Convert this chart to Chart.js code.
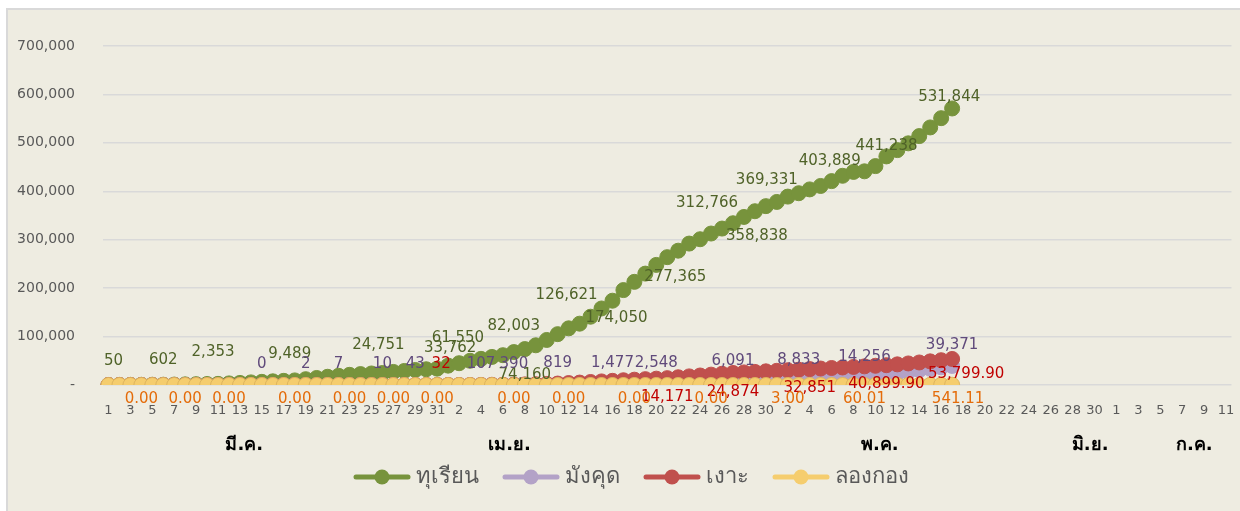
<!DOCTYPE html>
<html>
<head>
<meta charset="utf-8">
<script src="https://cdn.jsdelivr.net/npm/chart.js@4.4.1/dist/chart.umd.min.js"></script>
<style>
  body { margin: 0; background: #fff; }
  .frame { position: absolute; left: 6px; top: 8px; width: 1232px; height: 510px; border: 2px solid #D9D9D9; background: #EEECE1; }
  .wrap { position: absolute; left: 0; top: 0; width: 1240px; height: 511px; }
</style>
</head>
<body>
<div class="frame"></div>
<div class="wrap"><canvas id="fruitChart"></canvas></div>
<script>
// months shown on the axis and how many days of each are on it
const monthNames = ['มี.ค.', 'เม.ย.', 'พ.ค.', 'มิ.ย.', 'ก.ค.'];
const monthDays = [31, 30, 31, 11];
const days = [];
monthDays.forEach(n => { for (let d = 1; d <= n; d++) days.push(String(d)); });

// cumulative values, 1 Mar .. 17 May
const durian = [
  50, 200, 350, 450, 520, 602, 900, 1300, 1800, 2100,
  2353, 3300, 4300, 5400, 6500, 7600, 8600, 9489, 12000, 14500,
  17000, 19000, 21000, 22500, 23800, 24751, 27000, 29000, 31000, 32500,
  33762, 40000, 45000, 50000, 54000, 58000, 61550, 68000, 74160, 82003,
  93000, 105000, 117000, 126621, 141000, 158000, 174050, 196000, 213000, 230000,
  248000, 264000, 277365, 292000, 301000, 312766, 323000, 334000, 347000, 358838,
  369331, 378000, 389000, 396000, 403889, 411000, 421000, 432000, 440000, 441238,
  452000, 472000, 485000, 499000, 514000, 531844, 551000, 571000
];
const mangosteen = [
  0, 0, 0, 0, 0, 0, 0, 0, 0, 0,
  0, 0, 0, 0, 0, 1, 1, 2, 2, 4,
  5, 7, 8, 9, 9, 10, 18, 30, 43, 55,
  65, 75, 85, 95, 107, 200, 300, 390, 520, 620,
  720, 819, 950, 1100, 1250, 1350, 1477, 1700, 1950, 2250,
  2548, 3000, 3500, 4000, 4600, 5300, 5700, 6091, 6500, 6900,
  7300, 7700, 8200, 8833, 9500, 10300, 11200, 12200, 13200, 14256,
  17000, 20000, 23500, 27000, 30500, 33500, 36500, 39371
];
const rambutan = [
  0, 0, 0, 0, 0, 0, 0, 0, 0, 0,
  0, 0, 0, 0, 0, 0, 0, 0, 0, 0,
  0, 0, 0, 0, 0, 0, 0, 0, 0, 0,
  32, 60, 100, 150, 250, 400, 600, 850, 1200, 1600,
  2200, 3000, 4000, 5000, 6200, 7400, 8600, 9800, 11000, 12100,
  13100, 14171, 16000, 17800, 19600, 21400, 23200, 24874, 26000, 27100,
  28200, 29300, 30500, 31700, 32851, 34000, 35100, 36200, 37300, 38500,
  39700, 40899.9, 42600, 44500, 46500, 48800, 51200, 53799.9
];
const longkong = [
  0, 0, 0, 0, 0, 0, 0, 0, 0, 0,
  0, 0, 0, 0, 0, 0, 0, 0, 0, 0,
  0, 0, 0, 0, 0, 0, 0, 0, 0, 0,
  0, 0, 0, 0, 0, 0, 0, 0, 0, 0,
  0, 0, 0, 0, 0, 0, 0, 0, 0, 0,
  0, 0, 0, 0, 0, 0, 0, 0, 0, 0,
  1, 2, 3, 5, 8, 15, 25, 35, 48, 60.01,
  80, 110, 150, 200, 260, 340, 430, 541.11
];

// which points carry a value label
const durianLabelAt = [0, 5, 10, 17, 25, 30, 36, 38, 39, 43, 46, 52, 55, 59, 60, 64, 69, 75];
const mangosteenLabelAt = [14, 18, 21, 25, 28, 34, 37, 41, 46, 50, 57, 63, 69, 77];
const rambutanLabelAt = [30, 51, 57, 64, 71, 77];
const longkongLabelAt = [3, 7, 11, 17, 22, 26, 30, 37, 42, 48, 55, 62, 69, 77];

const yTicks = [0, 100000, 200000, 300000, 400000, 500000, 600000, 700000];

const FONT = '"DejaVu Sans", "Noto Sans", sans-serif';
const fmtInt = v => Math.round(v).toLocaleString('en-US');
const fmtMixed = v => Number.isInteger(v) ? v.toLocaleString('en-US')
  : v.toLocaleString('en-US', {minimumFractionDigits: 2, maximumFractionDigits: 2});
const fmtFixed = v => v.toFixed(2);

// legend marker: line with a dot, drawn in the right part of the image
function legendMarker(color) {
  const c = document.createElement('canvas');
  c.width = 79; c.height = 18;
  const g = c.getContext('2d');
  g.strokeStyle = color; g.lineWidth = 5; g.lineCap = 'round';
  g.beginPath(); g.moveTo(24, 9); g.lineTo(76, 9); g.stroke();
  g.fillStyle = color;
  g.beginPath(); g.arc(50, 9, 7.5, 0, Math.PI * 2); g.fill();
  return c;
}

const valueLabels = {
  id: 'valueLabels',
  afterDatasetsDraw(chart, args, opts) {
    const ctx = chart.ctx;
    ctx.save();
    ctx.font = '15px ' + FONT;
    ctx.textAlign = 'center';
    ctx.textBaseline = 'middle';
    chart.data.datasets.forEach((ds, di) => {
      const meta = chart.getDatasetMeta(di);
      const spec = opts.series[di];
      ctx.fillStyle = spec.color;
      ds.labelAt.forEach(i => {
        const pt = meta.data[i];
        const off = spec.offsets[i] || [0, spec.dy];
        ctx.fillText(spec.format(ds.data[i]), pt.x + off[0], pt.y + off[1]);
      });
    });
    ctx.restore();
  }
};

function series(label, data, labelAt, color, order, edge) {
  return {
    label: label, data: data, labelAt: labelAt, order: order, xAxisID: 'x',
    borderColor: color, backgroundColor: color, borderWidth: 5,
    pointRadius: 7.5, pointHoverRadius: 7.5,
    pointBackgroundColor: color, pointBorderColor: edge || color, pointBorderWidth: 1
  };
}

const datasets = [
  series('ทุเรียน', durian, durianLabelAt, '#77933C', 4),
  series('มังคุด', mangosteen, mangosteenLabelAt, '#B3A2C7', 3),
  series('เงาะ', rambutan, rambutanLabelAt, '#C0504D', 2),
  series('ลองกอง', longkong, longkongLabelAt, '#F5CD6E', 1, '#DDB45E')
];
const markers = datasets.map(d => legendMarker(d.borderColor));
const monthTickAt = [12.4, 36.6, 70.4, 89.6, 99.1];

new Chart(document.getElementById('fruitChart'), {
  type: 'line',
  data: { labels: days, datasets: datasets },
  options: {
    responsive: true,
    maintainAspectRatio: false,
    animation: false,
    layout: { padding: { top: 46, left: 10, right: 3, bottom: 13 } },
    scales: {
      x: {
        type: 'category',
        position: 'bottom',
        offset: true,
        // invisible tick marks keep the labels clear of the plot
        grid: { display: true, color: 'transparent', drawOnChartArea: false, drawTicks: true, tickLength: 18 },
        border: { display: false },
        ticks: {
          autoSkip: false, maxRotation: 0, minRotation: 0, padding: 0,
          color: '#595959', font: { family: FONT, size: 13 },
          callback: function (val, i) { return i % 2 === 0 ? this.getLabelForValue(val) : ''; }
        },
        afterFit: s => { s.height = 35; }
      },
      month: {
        type: 'linear',
        position: 'bottom',
        min: -0.5, max: 102.5,
        grid: { display: false, drawTicks: false },
        border: { display: false },
        afterBuildTicks: s => { s.ticks = monthTickAt.map(v => ({ value: v })); },
        ticks: {
          autoSkip: false, maxRotation: 0, padding: 15,
          color: '#000', font: { family: FONT, size: 18, weight: 'bold' },
          callback: v => monthNames[monthTickAt.indexOf(v)]
        },
        afterFit: s => { s.height = 38; }
      },
      y: {
        min: 0, max: 700000,
        afterBuildTicks: s => { s.ticks = yTicks.map(v => ({ value: v })); },
        grid: { color: '#D9D9D9', lineWidth: 1.5, drawTicks: false },
        border: { display: false },
        ticks: {
          padding: 28, color: '#595959', font: { family: FONT, size: 14 },
          callback: v => v === 0 ? '-' : v.toLocaleString('en-US')
        },
        afterFit: s => { s.width = 93; }
      }
    },
    plugins: {
      tooltip: { enabled: false },
      legend: {
        position: 'bottom',
        labels: {
          usePointStyle: true, pointStyleWidth: 67, padding: 8,
          color: '#595959', font: { family: FONT, size: 22 },
          generateLabels: chart => chart.data.datasets.map((ds, i) => ({
            text: ds.label, pointStyle: markers[i], datasetIndex: i, hidden: false,
            fillStyle: ds.borderColor, strokeStyle: ds.borderColor, lineWidth: 0, fontColor: '#595959'
          }))
        }
      },
      valueLabels: {
        series: [
          { color: '#4F6228', format: fmtInt, dy: -26, offsets: {
              0: [5, -24], 5: [0, -25], 10: [-5, -32], 17: [-5, -26], 25: [-4, -28], 30: [13, -21],
              36: [-45, -17], 38: [0, 26], 39: [-22, -19], 43: [-13, -29], 46: [4, 17], 52: [-3, 26],
              55: [-4, -30], 59: [2, 25], 60: [1, -26], 64: [20, -28], 69: [22, -25], 75: [19, -30] } },
          { color: '#604A7B', format: fmtInt, dy: -21, offsets: {} },
          { color: '#C00000', format: fmtMixed, dy: 19, offsets: { 30: [4, -21], 77: [14, 15] } },
          { color: '#E46C0A', format: fmtFixed, dy: 14, offsets: { 77: [6, 14] } }
        ]
      }
    }
  },
  plugins: [valueLabels]
});
</script>
</body>
</html>
